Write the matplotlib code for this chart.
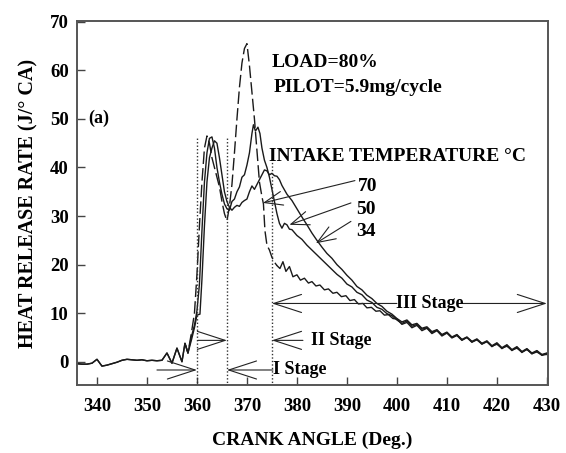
import numpy as np
import matplotlib.pyplot as plt

plt.rcParams['font.family'] = ['Liberation Serif', 'DejaVu Serif']
plt.rcParams['font.weight'] = 'bold'
plt.rcParams['axes.labelweight'] = 'bold'

# motoring part before ignition, same for all three runs
base_x = [336, 337, 338, 339, 340, 341, 342, 343, 344, 345, 346, 347, 348, 349,
          350, 351, 352, 353, 354, 355, 356, 357]
base_y = [-0.4, -0.5, -0.5, -0.3, 0.5, -0.9, -0.7, -0.4, -0.1, 0.3, 0.5, 0.4,
          0.3, 0.4, 0.2, 0.3, 0.2, 0.3, 1.8, -0.3, 2.8, 0.0]

# intake temperature 70 C (dashed part, combustion)
t70_x = [357.6, 358.2, 358.9, 359.5, 360, 360.5, 361, 361.5, 362, 362.5, 363, 363.5,
         364, 364.5, 365, 365.5, 366, 366.5, 367, 367.5, 368, 368.5, 369, 369.5,
         370, 370.5, 371, 371.5, 372, 372.5, 373, 373.3, 373.6, 374, 374.5, 375,
         375.5, 376]
t70_y = [3.8, 1.8, 6.0, 10.0, 18.0, 28.0, 37.0, 44.0, 46.5, 45.0, 42.0, 40.0,
         38.0, 36.0, 33.0, 30.5, 29.0, 32.0, 36.5, 43.0, 50.0, 56.5, 61.5, 64.5,
         65.5, 61.0, 55.5, 50.0, 43.5, 37.0, 34.0, 32.5, 27.0, 24.0, 23.0, 21.5,
         20.5, 19.8]
# intake temperature 70 C, after the main peak
t70_late_x = [376, 376.6, 377.2, 377.8, 378.5, 379.2, 380, 380.7, 381.5, 382.3,
              383, 383.8, 384.6, 385.5, 386.3, 387.2, 388, 388.9, 389.8, 390.6, 391.5,
              392.3, 393.2, 394, 394.9, 395.8, 396.6, 397.5, 398.3, 399.2, 400]
t70_late_y = [19.8, 19.2, 20.6, 18.6, 19.6, 17.5, 17.9, 16.8, 17.2, 16.2,
              16.5, 15.6, 15.8, 14.8, 15.0, 14.1, 14.3, 13.4, 13.6, 12.6, 12.8,
              11.9, 12.0, 11.1, 11.2, 10.4, 10.5, 9.6, 9.7, 8.9, 8.8]

# intake temperature 50 C
t50_x = [357.6, 358.2, 358.9, 359.5, 360, 360.5, 361, 361.5, 362, 362.5, 363, 363.5,
         364, 364.5, 365, 365.5, 366, 366.5, 367, 367.5, 368, 368.5, 369, 369.5,
         370, 370.5, 371, 371.3, 371.7, 372.2, 372.6, 373, 373.5, 374, 374.5, 375,
         375.5, 376, 376.5, 377, 377.5, 378, 378.5, 379, 380, 381, 382, 383, 384,
         385, 386, 387, 388, 389, 390, 391, 392, 393, 394, 395, 396, 397, 398,
         399, 400]
t50_y = [3.8, 1.8, 5.2, 7.5, 10.5, 16.0, 27.0, 37.0, 43.0, 46.0, 46.3, 44.0,
         40.0, 37.0, 34.5, 32.5, 31.5, 31.2, 33.0, 33.5, 35.0, 36.0, 38.0, 38.5,
         40.5, 43.0, 47.0, 48.8, 47.5, 48.3, 47.0, 44.0, 41.5, 40.0, 38.0, 35.5,
         33.0, 30.5, 28.5, 27.5, 28.5, 28.2, 27.3, 27.2, 26.0, 25.2, 24.0, 23.0, 22.0,
         21.0, 20.0, 19.0, 18.0, 17.2, 16.0, 15.4, 14.3, 13.8, 12.7, 12.2, 11.2, 10.8, 9.9,
         9.5, 8.6]

# intake temperature 34 C
t34_x = [357.6, 358.2, 358.9, 359.5, 360, 360.6, 361, 361.5, 362, 362.5, 363, 363.5,
         364, 364.5, 365, 365.5, 366, 366.5, 367, 367.5, 368, 368.5, 369, 369.5,
         370, 370.5, 371, 371.5, 372, 372.5, 373, 373.5, 374, 374.5, 375, 375.5,
         376, 376.5, 377, 378, 379, 380, 381, 382, 383, 384, 385, 386, 387, 388,
         389, 390, 391, 392, 393, 394, 395, 396, 397, 398, 399, 400]
t34_y = [3.8, 1.8, 4.5, 7.0, 9.6, 9.8, 17.0, 28.0, 37.0, 42.0, 44.0, 45.5,
         45.0, 42.0, 38.5, 35.0, 33.0, 31.8, 31.2, 31.8, 32.2, 32.0, 32.8, 33.2,
         33.5, 35.0, 36.2, 35.5, 36.5, 37.5, 38.5, 39.5, 39.3, 38.5, 38.8, 38.3,
         38.2, 37.5, 36.3, 34.5, 33.2, 31.5, 29.8, 28.2, 26.5, 25.0, 23.6, 22.3, 21.3, 20.0,
         19.0, 17.8, 16.8, 15.5, 14.8, 13.7, 13.0, 12.0, 11.4, 10.4, 9.8, 8.9]

# late combustion tail, 401..430 deg
tail_x = [401, 402, 403, 404, 405, 406, 407, 408, 409, 410, 411, 412, 413, 414, 415,
          416, 417, 418, 419, 420, 421, 422, 423, 424, 425, 426, 427, 428, 429, 430]
tail_70 = [7.7, 8.1, 7.0, 7.5, 6.4, 6.9, 5.8, 6.4, 5.3, 5.9, 4.9, 5.4, 4.4, 5.0, 4.0,
           4.6, 3.6, 4.2, 3.1, 3.8, 2.7, 3.4, 2.3, 3.0, 1.9, 2.6, 1.6, 2.2, 1.3, 1.7]
tail_50 = [7.9, 8.4, 7.3, 7.7, 6.7, 7.0, 6.0, 6.5, 5.5, 6.0, 5.0, 5.5, 4.5, 5.0, 4.1,
           4.5, 3.7, 4.1, 3.2, 3.6, 2.8, 3.2, 2.4, 2.8, 2.0, 2.5, 1.7, 2.0, 1.4, 1.5]
tail_34 = [8.2, 8.6, 7.6, 7.9, 6.9, 7.2, 6.2, 6.6, 5.6, 6.1, 5.1, 5.6, 4.6, 5.1, 4.2,
           4.7, 3.8, 4.3, 3.3, 3.9, 2.9, 3.5, 2.5, 3.1, 2.1, 2.7, 1.8, 2.3, 1.5, 1.8]

stage_bounds = [360, 366, 375]
x_ticks = [340, 350, 360, 370, 380, 390, 400, 410, 420, 430]
y_ticks = [0, 10, 20, 30, 40, 50, 60, 70]

fig = plt.figure(figsize=(5.66, 4.53), dpi=100)
ax = fig.add_axes([0.136, 0.150, 0.832, 0.804])

x50 = np.concatenate([base_x, t50_x, tail_x])
y50 = np.concatenate([base_y, t50_y, tail_50])
x34 = np.concatenate([base_x, t34_x, tail_x])
y34 = np.concatenate([base_y, t34_y, tail_34])
x70_late = np.concatenate([t70_late_x, tail_x])
y70_late = np.concatenate([t70_late_y, tail_70])

ax.plot(x34, y34, color='#1a1a1a', lw=1.0)
ax.plot(x50, y50, color='#1a1a1a', lw=1.0)
ax.plot(t70_x, t70_y, color='#1a1a1a', lw=1.0, dashes=(9, 3))
ax.plot(x70_late, y70_late, color='#1a1a1a', lw=1.0)

# stage borders
for i, xb in enumerate(stage_bounds):
    top = 42 if i == 2 else 46
    ax.plot([xb, xb], [-5, top], color='#333333', lw=1.0, ls=(0, (1, 1.5)))

big = dict(arrowstyle='->,head_length=2.0,head_width=0.65', lw=0.8, color='#222222',
           mutation_scale=10, shrinkA=0, shrinkB=0)
small = dict(arrowstyle='->,head_length=1.3,head_width=0.5', lw=0.8, color='#222222',
             mutation_scale=10, shrinkA=0, shrinkB=0)

# I stage
ax.annotate('', xy=(360, -1.7), xytext=(352, -1.7), arrowprops=big)
ax.annotate('', xy=(366, -1.7), xytext=(375.2, -1.7), arrowprops=big)
ax.text(375.2, -1.7, 'I Stage', fontsize=13, va='center', ha='left')
# II stage
ax.annotate('', xy=(366, 4.4), xytext=(360.2, 4.4), arrowprops=big)
ax.annotate('', xy=(375, 4.4), xytext=(381.2, 4.4), arrowprops=big)
ax.text(382.8, 4.4, 'II Stage', fontsize=13, va='center', ha='left')
# III stage
ax.annotate('', xy=(375, 12), xytext=(400, 12), arrowprops=big)
ax.annotate('', xy=(430, 12), xytext=(413.2, 12), arrowprops=big)
ax.text(406.6, 12, 'III Stage', fontsize=13, va='center', ha='center')

# curve labels
ax.annotate('', xy=(373.2, 32.7), xytext=(391.6, 37.3), arrowprops=small)
ax.annotate('', xy=(378.5, 28.2), xytext=(390.8, 32.7), arrowprops=small)
ax.annotate('', xy=(383.8, 24.4), xytext=(390.8, 28.9), arrowprops=small)
ax.text(392.2, 36.1, '70', fontsize=14, va='center', ha='left')
ax.text(391.8, 31.3, '50', fontsize=14, va='center', ha='left')
ax.text(391.8, 26.8, '34', fontsize=14, va='center', ha='left')

ax.text(375.0, 61.7, 'LOAD=80%', fontsize=14, va='center', ha='left')
ax.text(375.3, 56.5, 'PILOT=5.9mg/cycle', fontsize=14, va='center', ha='left')
ax.text(374.5, 42.3, 'INTAKE TEMPERATURE °C', fontsize=14, va='center', ha='left')
ax.text(338.2, 50.2, '(a)', fontsize=13, va='center', ha='left')

ax.set_xlim(336, 430.2)
ax.set_ylim(-4.8, 70.2)
ax.set_xticks(x_ticks)
ax.set_yticks(y_ticks)
ax.tick_params(direction='in', length=6, width=1.0, color='#444444', labelsize=13.5)
ax.tick_params(axis='x', pad=9)
ax.tick_params(axis='y', pad=6)
for s in ax.spines.values():
    s.set_color('#555555')
    s.set_linewidth(1.4)

ax.set_xlabel('CRANK ANGLE (Deg.)', fontsize=14, fontweight='bold', labelpad=12)
ax.set_ylabel('HEAT RELEASE RATE (J/° CA)', fontsize=14.5, fontweight='bold', labelpad=8)

plt.savefig('out.png', dpi=100)
